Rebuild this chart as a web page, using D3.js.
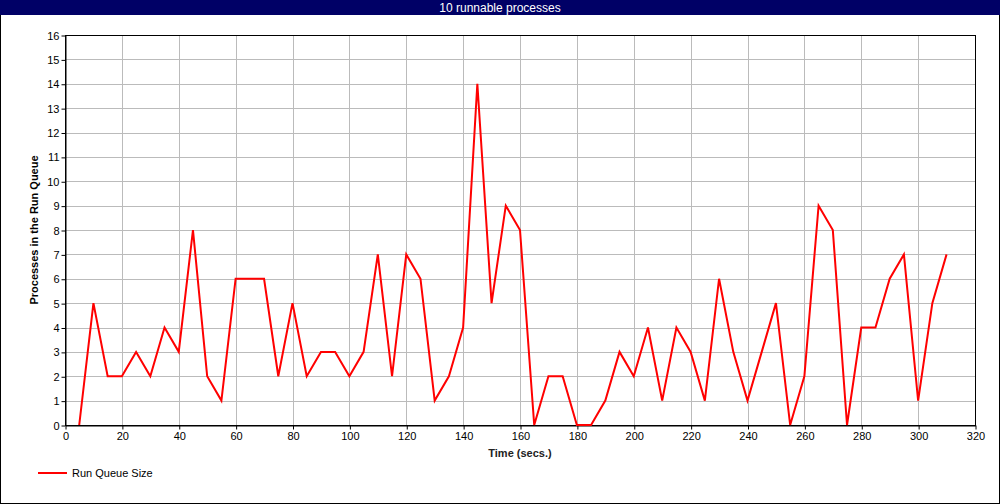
<!DOCTYPE html>
<html>
<head>
<meta charset="utf-8">
<script src="https://cdn.jsdelivr.net/npm/d3@7"></script>
<style>
  html, body { margin: 0; padding: 0; background: #fff; }
  svg { display: block; }
  text { font-family: "Liberation Sans", Arial, sans-serif; }
</style>
</head>
<body>
<svg id="chart" width="1000" height="504"></svg>
<script>
const chartTitle = "10 runnable processes";
const xAxisTitle = "Time (secs.)";
const yAxisTitle = "Processes in the Run Queue";
const seriesName = "Run Queue Size";
const times = [5,10,15,20,25,30,35,40,45,50,55,60,65,70,75,80,85,90,95,100,
  105,110,115,120,125,130,135,140,145,150,155,160,165,170,175,180,185,190,195,200,
  205,210,215,220,225,230,235,240,245,250,255,260,265,270,275,280,285,290,295,300,305,310];
const queueSize = [0,5,2,2,3,2,4,3,8,2,1,6,6,6,2,5,2,3,3,2,
  3,7,2,7,6,1,2,4,14,5,9,8,0,2,2,0,0,1,3,2,
  4,1,4,3,1,6,3,1,3,5,0,2,9,8,0,4,4,6,7,1,5,7];
const xTicks = [0,20,40,60,80,100,120,140,160,180,200,220,240,260,280,300,320];
const yTicks = [0,1,2,3,4,5,6,7,8,9,10,11,12,13,14,15,16];

const svg = d3.select("#chart");
const W = 1000, H = 504;
const m = {left: 65, right: 975, top: 35, bottom: 425};

// outer border
svg.append("rect").attr("x", 0.5).attr("y", 0.5).attr("width", W - 1).attr("height", H - 1)
  .attr("fill", "#fff").attr("stroke", "#000").attr("stroke-width", 1);
// title bar
svg.append("rect").attr("x", 0).attr("y", 0).attr("width", W).attr("height", 15).attr("fill", "#000066");
svg.append("text").attr("x", W / 2).attr("y", 12).attr("text-anchor", "middle")
  .attr("fill", "#fff").style("font-size", "12px").text(chartTitle);

const x = d3.scaleLinear().domain([0, 320]).range([m.left, m.right]);
const y = d3.scaleLinear().domain([0, 16]).range([m.bottom, m.top]);

// grid
const g = svg.append("g");
g.selectAll(".vg").data(xTicks.slice(1, -1)).enter().append("line")
  .attr("x1", d => Math.round(x(d)) + 0.5).attr("x2", d => Math.round(x(d)) + 0.5)
  .attr("y1", m.top).attr("y2", m.bottom).attr("stroke", "#bbbbbb").attr("stroke-width", 1);
g.selectAll(".hg").data(yTicks.slice(1, -1)).enter().append("line")
  .attr("y1", d => Math.round(y(d)) + 0.5).attr("y2", d => Math.round(y(d)) + 0.5)
  .attr("x1", m.left).attr("x2", m.right).attr("stroke", "#bbbbbb").attr("stroke-width", 1);

// axes
const xAxis = d3.axisBottom(x).tickValues(xTicks).tickSize(4).tickPadding(3).tickSizeOuter(0);
const yAxis = d3.axisLeft(y).tickValues(yTicks).tickSize(4).tickPadding(2).tickSizeOuter(0);
const gx = svg.append("g").attr("transform", `translate(0.5,${m.bottom + 0.5})`).call(xAxis);
const gy = svg.append("g").attr("transform", `translate(${m.left + 0.5},0.5)`).call(yAxis);
[gx, gy].forEach(a => {
  a.selectAll("text").style("font-size", "11px").style("font-family", "'Liberation Sans', Arial, sans-serif").attr("fill", "#000");
  a.selectAll("line").attr("stroke", "#000");
  a.select(".domain").attr("stroke", "#000");
});

// plot frame
svg.append("rect").attr("x", m.left + 0.5).attr("y", m.top + 0.5)
  .attr("width", m.right - m.left).attr("height", m.bottom - m.top)
  .attr("fill", "none").attr("stroke", "#000").attr("stroke-width", 1);

// line
const data = times.map((t, i) => ({t, v: queueSize[i]}));
svg.append("path").datum(data)
  .attr("d", d3.line().x(d => x(d.t)).y(d => y(d.v)))
  .attr("fill", "none").attr("stroke", "#ff0000").attr("stroke-width", 2)
  .attr("stroke-linejoin", "miter");

// axis titles
svg.append("text").attr("x", (m.left + m.right) / 2).attr("y", 457).attr("text-anchor", "middle")
  .style("font-size", "11px").style("font-weight", "bold").attr("fill", "#222").text(xAxisTitle);
svg.append("text").attr("transform", `translate(38,${(m.top + m.bottom) / 2}) rotate(-90)`)
  .attr("text-anchor", "middle").style("font-size", "11px").style("font-weight", "bold")
  .attr("fill", "#000").text(yAxisTitle);

// legend
svg.append("line").attr("x1", 38).attr("x2", 67).attr("y1", 473).attr("y2", 473)
  .attr("stroke", "#ff0000").attr("stroke-width", 2);
svg.append("text").attr("x", 72).attr("y", 477).style("font-size", "11px").attr("fill", "#000").text(seriesName);
</script>
</body>
</html>
